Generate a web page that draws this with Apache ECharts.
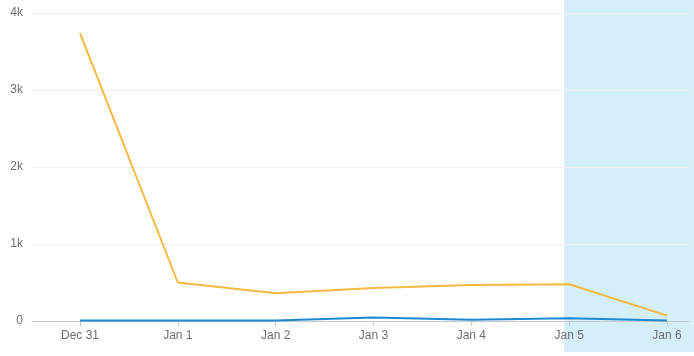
<!DOCTYPE html>
<html>
<head>
<meta charset="utf-8">
<script src="https://cdn.jsdelivr.net/npm/echarts@6/dist/echarts.min.js"></script>
<style>html,body{margin:0;padding:0;background:#fff}#c{width:694px;height:356px}</style>
</head>
<body>
<div id="c"></div>
<script>
const categories = ['Dec 31', 'Jan 1', 'Jan 2', 'Jan 3', 'Jan 4', 'Jan 5', 'Jan 6'];
const seriesOrange = [3740, 500, 360, 430, 468, 478, 70];
const seriesBlue = [5, 5, 5, 45, 15, 35, 5];
const yTicks = [0, 1000, 2000, 3000, 4000];
const shadeFrom = 'Jan 5';

const chart = echarts.init(document.getElementById('c'), null, {renderer: 'canvas'});
const font = 'Liberation Sans, Arial, sans-serif';
chart.setOption({
  animation: false,
  grid: [
    {left: 32, right: 4, top: 13, bottom: 35},
    {left: 80, right: 27, top: 13, bottom: 35}
  ],
  xAxis: [
    {type: 'category', gridIndex: 0, data: [''], axisLabel: {show: false}, axisTick: {show: false},
     axisLine: {lineStyle: {color: '#c8c8c8'}}},
    {type: 'category', gridIndex: 1, boundaryGap: false, data: categories,
     axisLine: {show: false},
     axisTick: {show: true, length: 5, lineStyle: {color: '#c8c8c8'}},
     axisLabel: {color: '#6e6e6e', fontSize: 12, fontFamily: font, margin: 9}}
  ],
  yAxis: [
    {type: 'value', gridIndex: 0, min: yTicks[0], max: yTicks[yTicks.length - 1], interval: 1000,
     axisLine: {show: false}, axisTick: {show: false},
     axisLabel: {color: '#6e6e6e', fontSize: 12, fontFamily: font, margin: 9,
       formatter: v => v === 0 ? '0' : (v / 1000) + 'k'},
     splitLine: {lineStyle: {color: '#efefef'}}},
    {type: 'value', gridIndex: 1, min: yTicks[0], max: yTicks[yTicks.length - 1], show: false,
     splitLine: {show: false}}
  ],
  series: [
    {type: 'line', xAxisIndex: 1, yAxisIndex: 1, data: seriesOrange, symbol: 'none',
     lineStyle: {color: '#f5b942', width: 2}, itemStyle: {color: '#f5b942'}, z: 3},
    {type: 'line', xAxisIndex: 1, yAxisIndex: 1, data: seriesBlue, symbol: 'none',
     lineStyle: {color: '#1b8ad3', width: 2}, itemStyle: {color: '#1b8ad3'}, z: 4}
  ]
});
const x0 = chart.convertToPixel({xAxisIndex: 1}, shadeFrom) - 5;
chart.setOption({
  graphic: [{type: 'rect', z: -10, silent: true,
    shape: {x: x0, y: 0, width: chart.getWidth() - x0, height: 352},
    style: {fill: 'rgba(160,218,243,0.45)'}}]
});
</script>
</body>
</html>
